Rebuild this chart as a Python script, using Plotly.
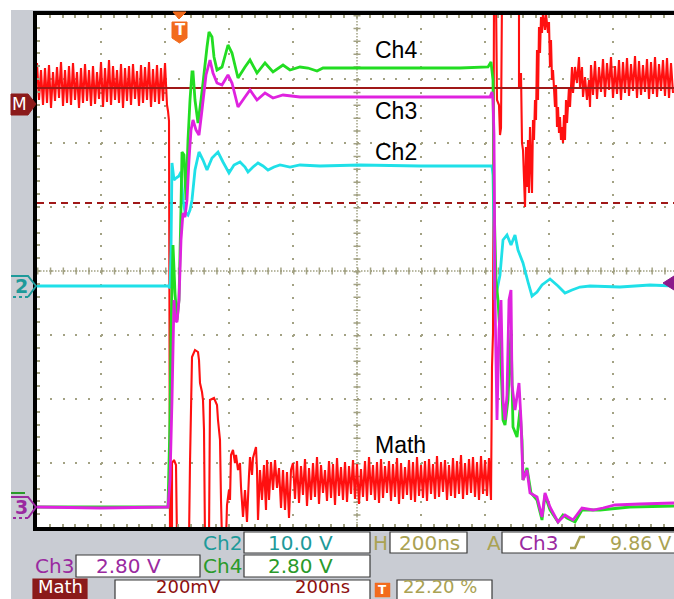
import plotly.graph_objects as go

# ---------------------------------------------------------------- acquisition
SAMPLE_NS = 3.125          # 200 ns/div, 64 record points per division
TRIG_SAMPLE = 142          # trigger position = 22.20 % of the record
LEVELS_PER_DIV = 64        # vertical resolution (levels per division)
SCREEN_SAMPLES = 637       # visible part of the record (right edge is cut)
CENTER_SAMPLE = 320        # horizontal centre of the graticule

# ---------------------------------------------------------------- waveforms
# (record point index, level) read from the screen
ch2_s = [0, 131, 133, 134, 135, 137, 139, 142, 144, 146, 148, 151, 153, 155, 158, 162, 166, 170, 175, 181,
         186, 192, 197, 203, 208, 211, 216, 221, 226, 231, 237, 243, 253, 263, 283, 323, 383, 443, 455, 456,
         457, 458, 460, 463, 466, 470, 474, 478, 481, 486, 491, 495, 500, 505, 513, 521, 528, 535, 543, 553,
         583, 613, 637]
ch2_lvl = [-15, -15, -17, 21, 108, 91, 93, 95, 99, 71, 59, 56, 61, 71, 101, 119, 111, 101, 113, 119,
           109, 98, 106, 109, 104, 99, 104, 108, 105, 101, 104, 106, 104, 106, 105, 106, 105, 105, 105, 96,
           41, -29, -19, -4, 31, 36, 26, 36, 21, 8, -11, -25, -21, -14, -8, -15, -22, -19, -16, -15,
           -16, -14, -15]

ch3_s = [0, 63, 131, 133, 135, 137, 138, 140, 142, 144, 146, 148, 150, 152, 154, 156, 159, 162, 165, 169,
         173, 176, 180, 185, 191, 195, 201, 208, 213, 220, 228, 236, 246, 263, 293, 363, 433, 453, 455, 456,
         457, 458, 460, 462, 464, 466, 468, 470, 472, 474, 475, 478, 482, 484, 486, 490, 493, 500, 505, 508,
         513, 521, 528, 536, 545, 556, 566, 578, 603, 637]
ch3_lvl = [-236, -237, -236, -209, -129, -29, -49, -51, -29, 31, 58, 54, 71, 111, 141, 151, 141, 136, 161, 196,
           211, 198, 188, 186, 196, 188, 164, 174, 181, 171, 178, 173, 176, 174, 174, 174, 174, 174, 179, 171,
           136, -29, -149, -59, -29, -129, -149, -124, -29, -19, -114, -139, -112, -149, -209, -199, -222, -226, -246, -222,
           -236, -251, -244, -249, -237, -239, -237, -234, -233, -232]

ch4_s = [0, 131, 133, 134, 136, 138, 140, 142, 144, 145, 147, 149, 151, 153, 155, 156, 158, 161, 164, 166,
         170, 172, 175, 177, 180, 185, 191, 195, 201, 208, 213, 220, 228, 236, 246, 253, 263, 271, 280, 286,
         303, 363, 423, 451, 454, 456, 457, 459, 461, 463, 466, 468, 471, 474, 476, 480, 483, 485, 486, 490,
         494, 500, 505, 508, 513, 521, 526, 530, 538, 545, 563, 593, 637]
ch4_lvl = [-236, -236, -149, -59, 26, -22, -49, -29, 64, 119, 116, 71, 131, 171, 199, 199, 171, 148, 171, 188,
           224, 239, 234, 214, 201, 204, 226, 218, 193, 204, 211, 198, 208, 199, 206, 201, 204, 203, 200, 203,
           203, 203, 203, 204, 209, 191, 71, -9, -29, -64, -149, -154, -129, -59, -156, -166, -139, -169, -209, -197,
           -222, -229, -249, -224, -239, -251, -244, -247, -251, -239, -239, -236, -235]

# Math trace: noisy stretches are every 2nd record point, edges are listed point by point
math_a_start = 0
math_a_lvl = [208, 171, 201, 166, 203, 168, 206, 163, 199, 170, 204, 173, 209, 165, 201, 168, 205, 166,
              208, 171, 199, 163, 203, 168, 207, 170, 201, 165, 205, 167, 199, 172, 209, 164, 203, 169,
              211, 166, 205, 171, 201, 168, 207, 163, 203, 170, 205, 166, 207, 172, 200, 165, 206, 168,
              204, 171, 209, 164, 202, 169, 206, 167, 203, 170, 208, 166]
math_b_s = [131, 132, 133, 135, 135, 137, 139, 140, 152, 153, 155, 158, 161, 162, 163, 165, 166, 167, 168,
            172, 173, 177, 180, 181, 183, 184, 185, 189, 190, 192, 193, 194, 196, 198, 199, 201, 203, 204,
            206, 208, 210, 212, 213, 215, 216, 219, 220, 221, 223, 225, 227, 229, 230, 232, 234, 236, 238,
            240, 242, 244, 246, 248, 250, 252, 254, 256]
math_b_lvl = [160, 150, -269, -269, -192, -189, -194, -269, -269, -192, -86, -79, -81, -89, -112, -121, -129, -159, -269,
              -269, -129, -127, -134, -149, -169, -229, -269, -269, -234, -219, -229, -184, -179, -192, -184, -199,
              -192, -216, -246, -219, -251, -204, -186, -204, -187, -176, -199, -249, -199, -229, -194, -239,
              -189, -229, -191, -219, -189, -217, -197, -237, -199, -239, -201, -247, -199, -192]
math_c_start = 258
math_c_lvl = [-228, -190, -232, -195, -224, -188, -235, -197, -229, -192, -226, -186, -233, -194, -222, -199,
              -230, -190, -227, -193, -234, -187, -225, -196, -229, -191, -231, -195, -223, -189, -228, -193,
              -233, -198, -226, -190, -230, -186, -224, -194, -229, -191, -232, -188, -227, -195, -222, -190,
              -230, -193, -226, -187, -233, -192, -228, -196, -224, -189, -229, -191, -231, -186, -225, -194,
              -227, -190, -230, -188, -223, -193, -228, -185, -226, -191, -221, -189, -229, -194, -225, -187,
              -227, -190, -223, -184, -228, -192, -224, -188, -222, -186, -226, -191, -229, -185, -223, -189,
              -225, -187]
math_d_s = [454, 455, 456, 457, 459, 460, 462, 463, 464, 465, 482, 482, 484, 485, 486, 488, 489, 490, 491, 492,
            493, 494, 495, 496, 497, 498, 499, 500, 501, 502, 503, 504, 505, 506, 508, 509, 511, 512, 513, 514,
            515, 516, 518, 519, 520, 521, 522, 523, 524, 525, 526, 527, 528, 529, 530, 532, 533, 535, 536, 538,
            540, 542, 543, 545, 546, 548, 550, 552, 553]
math_d_lvl = [-229, -96, -62, 275, 275, 171, 166, 136, 143, 275, 275, 184, 198, 128, 121, 64, 124, 84, 131, 78,
              144, 111, 78, 151, 131, 171, 151, 221, 171, 244, 218, 254, 238, 258, 241, 257, 238, 249, 204, 231,
              191, 201, 164, 186, 144, 164, 138, 154, 131, 144, 128, 156, 131, 171, 148, 184, 164, 204, 178, 204,
              188, 214, 184, 204, 174, 194, 171, 191, 164]
math_e_start = 554
math_e_lvl = [206, 176, 210, 172, 204, 179, 212, 174, 208, 181, 214, 173, 205, 177, 211, 171, 209, 178, 213, 175,
              207, 180, 215, 173, 210, 176, 206, 179, 212, 172, 209, 177, 214, 174, 207, 180, 211, 175, 213, 173,
              208, 178]
NOISE_STEP = 2

# horizontal cursors and channel ground markers (levels)
cursor_solid_lvl = 183
cursor_dash_lvl = 68
gnd_math_lvl = 167
gnd_ch2_lvl = -15
gnd_ch3_lvl = -236
gnd_ch4_lvl = -233
trig_lvl = -12

trace_labels = ["Ch4", "Ch3", "Ch2", "Math"]

# ---------------------------------------------------------------- helpers
def t_ns(samples):
    return [(s - TRIG_SAMPLE) * SAMPLE_NS for s in samples]

def div(levels):
    return [v / LEVELS_PER_DIV for v in levels]

def every(start, values):
    return [start + NOISE_STEP * i for i in range(len(values))]

math_s = (every(math_a_start, math_a_lvl) + math_b_s + every(math_c_start, math_c_lvl)
          + math_d_s + every(math_e_start, math_e_lvl))
math_lvl = math_a_lvl + math_b_lvl + math_c_lvl + math_d_lvl + math_e_lvl

T_LEFT = (0 - TRIG_SAMPLE) * SAMPLE_NS
T_RIGHT = (SCREEN_SAMPLES - TRIG_SAMPLE) * SAMPLE_NS
T_CENTER = (CENTER_SAMPLE - TRIG_SAMPLE) * SAMPLE_NS

W, H = 674, 599
ML, MT, MB = 37, 15, 72
PW, PH = W - ML, H - MT - MB

def PX(px):
    return (px - ML) / PW

def PY(py):
    return (MT + PH - py) / PH

RED = "#ff1010"
CYAN = "#1fe0e8"
MAGENTA = "#df22df"
GREEN = "#22dd22"
DKRED = "#a01818"
GRID = "#a3a284"
GRAY = "#c9ccd3"
TEAL = "#1e9a9a"
PURPLE = "#9a2aa0"
TGREEN = "#2a9a2a"
KHAKI = "#aaa253"
RDTXT = "#8e1010"
ORANGE = "#f26b1d"

fig = go.Figure()

fig.add_trace(go.Scatter(x=t_ns(math_s), y=div(math_lvl), mode="lines",
                         line=dict(color=RED, width=2.1, simplify=False), hoverinfo="skip"))
fig.add_trace(go.Scatter(x=[T_LEFT, T_RIGHT], y=div([cursor_solid_lvl] * 2), mode="lines",
                         line=dict(color=DKRED, width=2), hoverinfo="skip"))
fig.add_trace(go.Scatter(x=[T_LEFT, T_RIGHT], y=div([cursor_dash_lvl] * 2), mode="lines",
                         line=dict(color=DKRED, width=2, dash="7px,5px"), hoverinfo="skip"))
fig.add_trace(go.Scatter(x=t_ns(ch2_s), y=div(ch2_lvl), mode="lines",
                         line=dict(color=CYAN, width=2.8, simplify=False), hoverinfo="skip"))
fig.add_trace(go.Scatter(x=t_ns(ch4_s), y=div(ch4_lvl), mode="lines",
                         line=dict(color=GREEN, width=2.8, simplify=False), hoverinfo="skip"))
fig.add_trace(go.Scatter(x=t_ns(ch3_s), y=div(ch3_lvl), mode="lines",
                         line=dict(color=MAGENTA, width=2.8, simplify=False), hoverinfo="skip"))

shapes = []
ann = []

# white margins of the screenshot
shapes.append(dict(type="rect", xref="paper", yref="paper", x0=PX(0), x1=PX(11), y0=PY(H), y1=PY(0),
                   fillcolor="white", line=dict(width=0), layer="above"))
shapes.append(dict(type="rect", xref="paper", yref="paper", x0=PX(0), x1=PX(W), y0=PY(10), y1=PY(0),
                   fillcolor="white", line=dict(width=0), layer="above"))

# graticule centre cross: fine dots + short tick bars every 1/5 division
for dash, width in (("1.5px,1.5px", 1.5), ("1.5px,11.3px", 7)):
    shapes.append(dict(type="line", xref="x", yref="y", x0=T_LEFT, x1=T_RIGHT, y0=0, y1=0,
                       line=dict(color=GRID, width=width, dash=dash), layer="below"))
    shapes.append(dict(type="line", xref="x", yref="y", x0=T_CENTER, x1=T_CENTER, y0=4, y1=-4,
                       line=dict(color=GRID, width=width, dash=dash), layer="below"))

# ground / reference markers on the left edge
def left_marker(level, path, fill, color, width=2, dash=None):
    return dict(type="path", xref="paper", yref="y", xsizemode="pixel", ysizemode="pixel",
                xanchor=0, yanchor=level / LEVELS_PER_DIV, path=path, fillcolor=fill,
                line=dict(color=color, width=width, dash=dash), layer="above")

shapes.append(left_marker(gnd_math_lvl, "M -26,10 L -9,10 L -1,0 L -9,-11 L -26,-11 Z", "#8b1a1a", "#8b1a1a", 1))
shapes.append(left_marker(gnd_ch4_lvl, "M -26,11 L -12,11", "rgba(0,0,0,0)", TGREEN, 2))
for lvl, col in ((gnd_ch2_lvl, TEAL), (gnd_ch3_lvl, PURPLE)):
    shapes.append(left_marker(lvl, "M -26,10 L -9,10 L -1,0 L -9,-11", "rgba(0,0,0,0)", col, 2))
    shapes.append(left_marker(lvl, "M -9,-11 L -26,-11", "rgba(0,0,0,0)", col, 2, "dot"))

ann.append(dict(xref="paper", yref="y", x=0, y=gnd_math_lvl / LEVELS_PER_DIV, xshift=-18, text="M",
                showarrow=False, font=dict(family="DejaVu Sans", size=17, color="white"), xanchor="center", yanchor="middle"))
ann.append(dict(xref="paper", yref="y", x=0, y=gnd_ch2_lvl / LEVELS_PER_DIV, xshift=-16, text="<b>2</b>",
                showarrow=False, font=dict(family="DejaVu Sans", size=19, color=TEAL), xanchor="center", yanchor="middle"))
ann.append(dict(xref="paper", yref="y", x=0, y=gnd_ch3_lvl / LEVELS_PER_DIV, xshift=-16, text="<b>3</b>",
                showarrow=False, font=dict(family="DejaVu Sans", size=19, color=PURPLE), xanchor="center", yanchor="middle"))

# trigger level marker (right edge)
shapes.append(dict(type="path", xref="paper", yref="y", xsizemode="pixel", ysizemode="pixel",
                   xanchor=1, yanchor=trig_lvl / LEVELS_PER_DIV, path="M 0,7 L -11,0 L 0,-7 Z",
                   fillcolor="#8b1a8b", line=dict(color="#8b1a8b", width=1), layer="above"))

# trigger position marker (top)
shapes.append(dict(type="path", xref="x", yref="paper", xsizemode="pixel", ysizemode="pixel",
                   xanchor=0, yanchor=1, path="M -6,3 L 7,3 L 0,-4 Z",
                   fillcolor=ORANGE, line=dict(color=ORANGE, width=1), layer="above"))
shapes.append(dict(type="path", xref="x", yref="paper", xsizemode="pixel", ysizemode="pixel",
                   xanchor=0, yanchor=1, path="M -7,-7 L 8,-7 L 8,-23 L 0.5,-28 L -7,-23 Z",
                   fillcolor=ORANGE, line=dict(color=ORANGE, width=1), layer="above"))
ann.append(dict(xref="x", yref="paper", x=0, y=1, xshift=1, yshift=-15, text="<b>T</b>", showarrow=False,
                font=dict(family="DejaVu Sans", size=15, color="white"), xanchor="center", yanchor="middle"))

# trace labels
label_pos = {"Ch4": (373, 50), "Ch3": (373, 111), "Ch2": (373, 152), "Math": (373, 445)}
for name in trace_labels:
    x, y = label_pos[name]
    ann.append(dict(xref="paper", yref="paper", x=PX(x), y=PY(y), text=name, showarrow=False,
                    font=dict(family="Liberation Sans", size=23, color="black"), xanchor="left", yanchor="middle"))

# readout panel
def box(x0, y0, x1, y1, fill="white", edge="#3a3a3a", w=1.2):
    shapes.append(dict(type="rect", xref="paper", yref="paper", x0=PX(x0), x1=PX(x1), y0=PY(y1), y1=PY(y0),
                       fillcolor=fill, line=dict(color=edge, width=w), layer="above"))

def txt(x, y, s, color, anchor="left", size=20, vanchor="middle"):
    ann.append(dict(xref="paper", yref="paper", x=PX(x), y=PY(y), text=s, showarrow=False,
                    font=dict(family="DejaVu Sans", size=size, color=color), xanchor=anchor, yanchor=vanchor))

box(244, 532, 370, 553)
box(390, 532, 467, 553)
box(502, 532, 690, 553)
box(76, 555, 200, 577)
box(244, 555, 370, 577)
box(33, 579, 87, 610, fill="#8b1a1a", edge="#8b1a1a")
box(115, 580, 370, 610)
box(375, 583, 390, 597, fill=ORANGE, edge=ORANGE, w=0.5)
box(397, 580, 492, 610)

readouts_top = [
    (201, 543, "Ch2", TEAL, "left"), (300, 543, "10.0 V", TEAL, "center"),
    (371, 543, "H", KHAKI, "left"), (429, 543, "200ns", KHAKI, "center"),
    (485, 543, "A", KHAKI, "left"), (517, 543, "Ch3", PURPLE, "left"),
    (33, 566, "Ch3", PURPLE, "left"), (128, 566, "2.80 V", PURPLE, "center"),
    (201, 566, "Ch4", TGREEN, "left"), (300, 566, "2.80 V", TGREEN, "center"),
]
for x, y, s, c, a in readouts_top:
    txt(x, y, s, c, a)
txt(673, 543, "9.86 V", KHAKI, "right", 19)

readouts_bottom = [
    (60, "Math", "white"), (188, "200mV", RDTXT), (322, "200ns", RDTXT), (440, "22.20 %", KHAKI),
]
for x, s, c in readouts_bottom:
    txt(x, 599, s, c, "center", 18, "bottom")
txt(382.5, 590, "<b>T</b>", "white", "center", 12)

# trigger slope symbol
shapes.append(dict(type="path", xref="paper", yref="paper",
                   path=f"M {PX(570)},{PY(548)} L {PX(575)},{PY(548)} L {PX(580)},{PY(537)} L {PX(585)},{PY(537)}",
                   line=dict(color=KHAKI, width=2.5), layer="above"))

fig.update_layout(
    width=W, height=H, margin=dict(l=ML, r=0, t=MT, b=MB, pad=0),
    paper_bgcolor=GRAY, plot_bgcolor="white", showlegend=False,
    shapes=shapes, annotations=ann,
    xaxis=dict(range=[T_LEFT, T_RIGHT], showticklabels=False, zeroline=False,
               showline=True, linecolor="black", linewidth=4, mirror="ticks",
               ticks="inside", ticklen=3, tickwidth=1.5, tickcolor=GRID, tick0=T_LEFT, dtick=200,
               showgrid=True, gridcolor=GRID, gridwidth=2, griddash="2px,10.8px",
               minor=dict(ticks="inside", ticklen=3, tickwidth=1.5, tickcolor=GRID, tick0=T_LEFT, dtick=40, showgrid=False),
               fixedrange=True),
    yaxis=dict(range=[-4, 4], showticklabels=False, zeroline=False,
               showline=True, linecolor="black", linewidth=4, mirror=False,
               ticks="inside", ticklen=3, tickwidth=1.5, tickcolor=GRID, tick0=0, dtick=1,
               showgrid=True, gridcolor=GRID, gridwidth=2, griddash="2px,10.8px",
               minor=dict(ticks="inside", ticklen=3, tickwidth=1.5, tickcolor=GRID, tick0=0, dtick=0.2, showgrid=False),
               fixedrange=True),
)

fig.write_html("out.html")
